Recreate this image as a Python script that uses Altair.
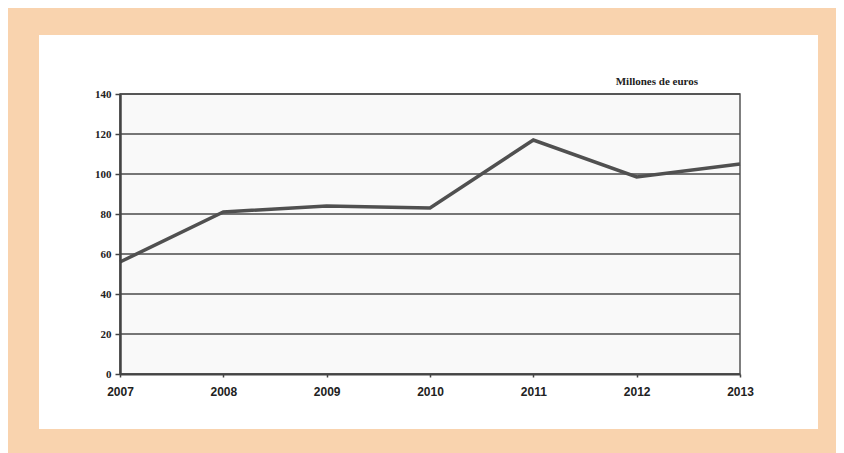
import altair as alt
import pandas as pd

years = [2007, 2008, 2009, 2010, 2011, 2012, 2013]
values = [56, 81, 84, 83, 117, 98.5, 105]
grid_values = [0, 20, 40, 60, 80, 100, 120, 140]

df = pd.DataFrame({"year": years, "value": values})
grid_df = pd.DataFrame({"g": grid_values})

W, H = 620, 280

x_scale = alt.Scale(domain=[2007, 2013], nice=False, zero=False)
y_scale = alt.Scale(domain=[0, 140], nice=False)

y_axis = alt.Axis(values=grid_values, grid=False, zindex=1,
                  labelFont="Liberation Serif", labelFontWeight="bold",
                  labelFontSize=11, labelColor="#222222",
                  labelPadding=4,
                  tickSize=5, tickColor="#444444", tickWidth=1.5,
                  domainColor="#444444", domainWidth=2.5)

x_axis = alt.Axis(values=years, format="d", grid=False, zindex=1,
                  labelFont="Liberation Sans", labelFontWeight="bold",
                  labelFontSize=12, labelColor="#222222",
                  labelPadding=9, labelFlush=False,
                  tickSize=3, tickColor="#444444", tickWidth=1.5,
                  domainColor="#444444", domainWidth=2)

panel = alt.Chart(alt.Data(values=[{}])).mark_rect(fill="white").encode(
    x=alt.value(-81), x2=alt.value(698), y=alt.value(-59), y2=alt.value(335)
)

plot_bg = alt.Chart(alt.Data(values=[{}])).mark_rect(
    fill="#F9F9F9", stroke="#555555", strokeWidth=1.5
).encode(x=alt.value(0), x2=alt.value(W), y=alt.value(0), y2=alt.value(H))

grid = alt.Chart(grid_df).mark_rule(color="#4a4a4a", strokeWidth=1.5).encode(
    y=alt.Y("g:Q", scale=y_scale, title=None, axis=y_axis),
    x=alt.value(0), x2=alt.value(W)
)

line = alt.Chart(df).mark_line(color="#505050", strokeWidth=3.5).encode(
    x=alt.X("year:Q", scale=x_scale, title=None, axis=x_axis),
    y=alt.Y("value:Q", scale=y_scale, title=None, axis=y_axis)
)

chart = alt.layer(panel, plot_bg, grid, line).properties(
    width=W, height=H,
    background="#F9D3AE",
    padding={"left": 112, "top": 86, "right": 96, "bottom": 79},
    autosize=alt.AutoSizeParams(type="none"),
    title=alt.TitleParams(
        "Millones de euros", anchor="end", frame="group",
        font="Liberation Serif", fontSize=11, fontWeight="bold",
        color="#222222", dx=-42, dy=60, offset=8
    )
).configure_view(stroke=None)

chart.save("out.html", embed_options={"renderer": "svg", "actions": False})
